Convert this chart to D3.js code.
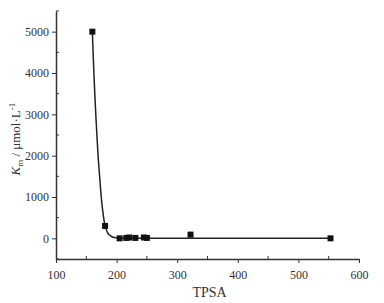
<!DOCTYPE html>
<html>
<head>
<meta charset="utf-8">
<script src="https://cdn.jsdelivr.net/npm/d3@7"></script>
<style>
  body { margin: 0; background: #fff; }
  svg { display: block; font-family: "Liberation Serif", "DejaVu Serif", serif; }
</style>
</head>
<body>
<div class="chart"></div>
<script>
// measured points
let tpsa = [160, 181, 205, 216, 221, 231, 245, 250, 322, 553]
let km = [5000, 300, 0, 10, 20, 10, 20, 10, 90, 0]
// fitted curve
let fitX = [160, 162, 164, 166, 169, 172, 175, 178, 181, 185, 190, 196, 203, 212, 240, 553]
let fitY = [5000, 4200, 3500, 2900, 2100, 1500, 950, 560, 300, 140, 60, 20, 5, 0, 0, 0]
let xTicks = [100, 200, 300, 400, 500, 600]
let yTicks = [0, 1000, 2000, 3000, 4000, 5000]

let width = 384, height = 303
let margin = { left: 56, right: 25, top: 11, bottom: 44 }
let svg = d3.select(".chart").append("svg")
    .attr("width", width)
    .attr("height", height)

let x = d3.scaleLinear().domain([100, 600]).range([margin.left, width - margin.right])
let y = d3.scaleLinear().domain([-500, 5500]).range([height - margin.bottom, margin.top])

let axisColor = "#333"
//x轴
let xAxis = svg.append("g")
    .attr("transform", `translate(0,${height - margin.bottom})`)
    .call(d3.axisBottom(x).tickValues(xTicks).tickSize(4).tickSizeOuter(0).tickFormat(d3.format("d")))
xAxis.append("g")
    .selectAll("line")
    .data(d3.range(150, 600, 100))
    .enter()
    .append("line")
    .attr("x1", d => x(d)).attr("x2", d => x(d))
    .attr("y1", 0).attr("y2", -3)
    .attr("stroke", axisColor)
//y轴
let yAxis = svg.append("g")
    .attr("transform", `translate(${margin.left},0)`)
    .call(d3.axisLeft(y).tickValues(yTicks).tickSize(4).tickSizeOuter(0).tickFormat(d3.format("d")))
yAxis.append("g")
    .selectAll("line")
    .data(d3.range(-500, 5501, 1000))
    .enter()
    .append("line")
    .attr("y1", d => y(d)).attr("y2", d => y(d))
    .attr("x1", 0).attr("x2", 3)
    .attr("stroke", axisColor)

svg.selectAll(".domain").attr("stroke", axisColor).attr("stroke-width", 1.5)
svg.selectAll(".tick line").attr("stroke", axisColor)
svg.selectAll(".tick text")
    .attr("font-family", "Liberation Serif")
    .attr("font-size", 12)
    .attr("fill", "#333")
xAxis.selectAll(".tick text").attr("dy", "1.1em")

//拟合曲线
let line = d3.line()
    .x(d => x(d[0]))
    .y(d => y(d[1]))
    .curve(d3.curveMonotoneX)
svg.append("path")
    .datum(fitX.map((d, i) => [d, fitY[i]]))
    .attr("fill", "none")
    .attr("stroke", "#222")
    .attr("stroke-width", 1.5)
    .attr("d", line)

//数据点
let ms = 6
svg.append("g")
    .selectAll("rect")
    .data(tpsa)
    .enter()
    .append("rect")
    .attr("x", d => x(d) - ms / 2)
    .attr("y", (d, i) => y(km[i]) - ms / 2)
    .attr("width", ms)
    .attr("height", ms)
    .attr("fill", "#111")

//标题
svg.append("text")
    .attr("x", (x(100) + x(600)) / 2 + 2)
    .attr("y", 297)
    .attr("text-anchor", "middle")
    .attr("font-size", 14)
    .attr("fill", "#333")
    .text("TPSA")

let yTitle = svg.append("text")
    .attr("transform", `translate(20,${y(2400)}) rotate(-90)`)
    .attr("text-anchor", "middle")
    .attr("font-size", 13)
    .attr("fill", "#333")
yTitle.append("tspan").attr("font-style", "italic").text("K")
yTitle.append("tspan").attr("font-size", 9).attr("dy", 3).text("m")
yTitle.append("tspan").attr("dy", -3).text(" / μmol·L")
yTitle.append("tspan").attr("font-size", 9).attr("dy", -5).text("-1")
</script>
</body>
</html>
